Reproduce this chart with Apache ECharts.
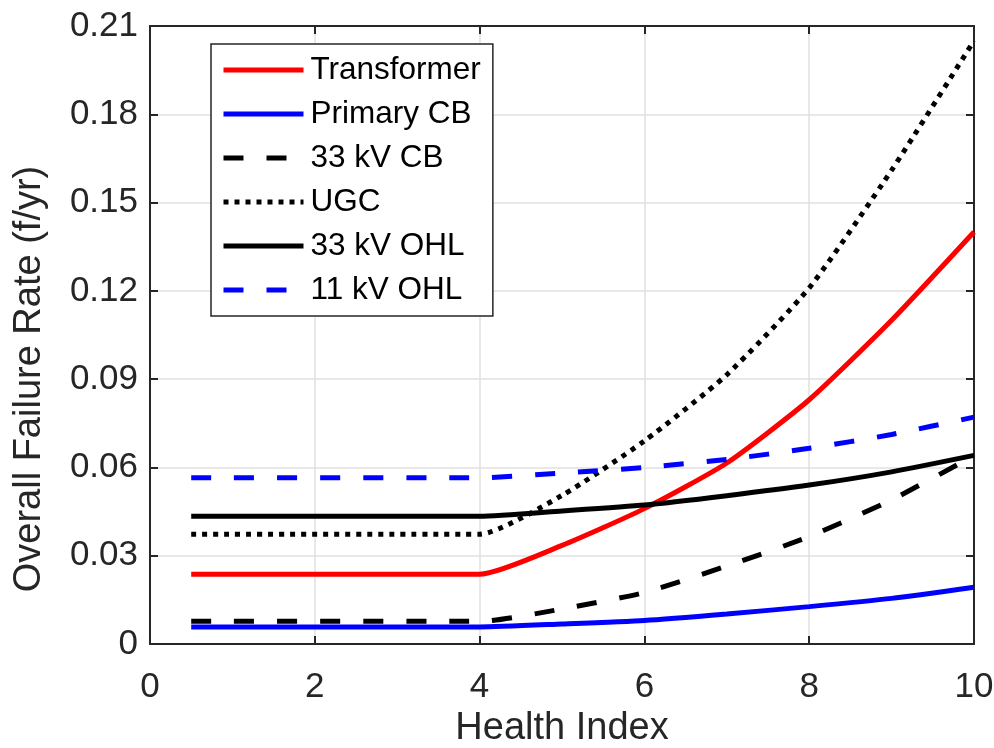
<!DOCTYPE html>
<html><head><meta charset="utf-8">
<script src="https://cdn.jsdelivr.net/npm/echarts@6/dist/echarts.min.js"></script>
<style>html,body{margin:0;padding:0;background:#fff;overflow:hidden}#c{width:994px;height:748px}</style>
</head><body><div id="c"></div>
<script>
const healthIndex = [0.5, 3.8, 4, 5, 6, 7, 8, 9, 10];
const transformer = [0.0237, 0.0237, 0.0237, 0.0335, 0.046, 0.0615, 0.083, 0.110, 0.140];
const primaryCB   = [0.0058, 0.0058, 0.0058, 0.0068, 0.008, 0.0102, 0.0127, 0.0155, 0.0193];
const cb33kV      = [0.0077, 0.0077, 0.0077, 0.0119, 0.0175, 0.0265, 0.0365, 0.049, 0.064];
const ugc         = [0.0373, 0.0373, 0.0373, 0.0505, 0.069, 0.0915, 0.121, 0.161, 0.205];
const ohl33kV     = [0.0434, 0.0434, 0.0434, 0.0452, 0.0472, 0.0504, 0.054, 0.0585, 0.0641];
const ohl11kV     = [0.0565, 0.0565, 0.0565, 0.0581, 0.06, 0.0627, 0.0665, 0.0712, 0.0771];
const seriesNames = ['Transformer', 'Primary CB', '33 kV CB', 'UGC', '33 kV OHL', '11 kV OHL'];
const xTitle = 'Health Index';
const yTitle = 'Overall Failure Rate (f/yr)';

const FONT = 'Liberation Sans, Arial, Helvetica, sans-serif';
const AX = '#262626';
const pair = arr => healthIndex.map((x, i) => [x, arr[i]]);

const styles = [
  {color: '#ff0000', type: 'solid'},
  {color: '#0000ff', type: 'solid'},
  {color: '#000000', type: [20, 23]},
  {color: '#000000', type: [5, 6]},
  {color: '#000000', type: 'solid'},
  {color: '#0000ff', type: [20, 23]}
];
const datasets = [transformer, primaryCB, cb33kV, ugc, ohl33kV, ohl11kV];

const baseAxis = {
  axisLine: {show: true, onZero: false, lineStyle: {color: AX, width: 2}},
  axisTick: {show: true, inside: true, length: 8, lineStyle: {color: AX, width: 2}},
  splitLine: {show: false}
};

const chart = echarts.init(document.getElementById('c'), null, {renderer: 'canvas'});
chart.setOption({
  animation: false,
  backgroundColor: '#ffffff',
  grid: {left: 150, right: 20, top: 26, bottom: 104, containLabel: false, outerBoundsMode: 'none'},
  xAxis: [
    Object.assign({}, baseAxis, {
      type: 'value', min: 0, max: 10, interval: 2, position: 'bottom',
      name: xTitle, nameLocation: 'middle', nameGap: 56,
      nameTextStyle: {fontFamily: FONT, fontSize: 38, color: AX},
      axisLabel: {fontFamily: FONT, fontSize: 35, color: AX, margin: 26},
      splitLine: {show: true, lineStyle: {color: '#e0e0e0', width: 1.5}}
    }),
    Object.assign({}, baseAxis, {
      type: 'value', min: 0, max: 10, interval: 2, position: 'top',
      axisLabel: {show: false}
    })
  ],
  yAxis: [
    Object.assign({}, baseAxis, {
      type: 'value', min: 0, max: 0.21, interval: 0.03, position: 'left',
      axisLabel: {fontFamily: FONT, fontSize: 35, color: AX, margin: 12,
        formatter: v => v === 0 ? '0' : v.toFixed(2)},
      splitLine: {show: true, lineStyle: {color: '#e0e0e0', width: 1.5}}
    }),
    Object.assign({}, baseAxis, {
      type: 'value', min: 0, max: 0.21, interval: 0.03, position: 'right',
      axisLabel: {show: false}
    })
  ],
  graphic: [{
    type: 'text', x: 30, y: 379, rotation: Math.PI / 2,
    style: {text: yTitle, font: '38px ' + FONT, fill: AX, align: 'center', verticalAlign: 'middle'}
  }],
  legend: {
    orient: 'vertical', left: 211, top: 44,
    data: seriesNames,
    itemWidth: 80, itemHeight: 4, itemGap: 10,
    padding: [9, 12, 9, 10],
    borderColor: AX, borderWidth: 1.5, backgroundColor: '#ffffff',
    selectedMode: false,
    itemStyle: {opacity: 0},
    lineStyle: {width: 5},
    textStyle: {fontFamily: FONT, fontSize: 31.5, color: '#000', lineHeight: 34, padding: [0, 0, 0, 2]}
  },
  series: datasets.map((arr, i) => ({
    name: seriesNames[i], type: 'line', data: pair(arr),
    symbol: 'none', smooth: 0.2,
    lineStyle: {color: styles[i].color, width: 5, type: styles[i].type, cap: 'butt'},
    itemStyle: {color: styles[i].color}
  }))
});
</script></body></html>
